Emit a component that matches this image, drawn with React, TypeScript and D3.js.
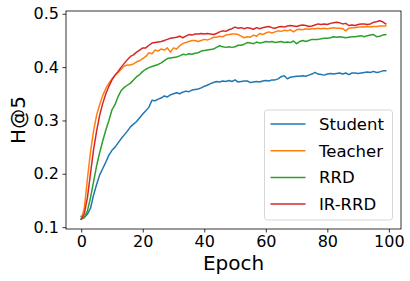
import React, { useEffect, useRef } from "react";
import * as d3 from "d3";

const epochs = d3.range(0, 100);

const student = [
  0.120, 0.118, 0.124, 0.135, 0.160, 0.180, 0.198, 0.210, 0.222, 0.235,
  0.244, 0.250, 0.258, 0.266, 0.273, 0.280, 0.288, 0.293, 0.298, 0.305,
  0.312, 0.318, 0.325, 0.338, 0.337, 0.340, 0.342, 0.346, 0.344, 0.348,
  0.350, 0.352, 0.350, 0.353, 0.355, 0.354, 0.357, 0.358, 0.359, 0.361,
  0.364, 0.366, 0.369, 0.371, 0.373, 0.372, 0.374, 0.373, 0.375, 0.373,
  0.376, 0.372, 0.373, 0.374, 0.374, 0.371, 0.372, 0.373, 0.372, 0.374,
  0.375, 0.374, 0.376, 0.376, 0.378, 0.382, 0.384, 0.378, 0.381, 0.382,
  0.383, 0.383, 0.384, 0.383, 0.385, 0.387, 0.390, 0.387, 0.386, 0.385,
  0.387, 0.388, 0.387, 0.388, 0.389, 0.387, 0.389, 0.386, 0.389, 0.389,
  0.388, 0.389, 0.390, 0.391, 0.390, 0.392, 0.390, 0.391, 0.393, 0.393,
];

const teacher = [
  0.115, 0.135, 0.190, 0.240, 0.280, 0.310, 0.330, 0.347, 0.360, 0.370,
  0.378, 0.385, 0.390, 0.396, 0.402, 0.404, 0.404, 0.406, 0.410, 0.412,
  0.416, 0.420, 0.427, 0.425, 0.432, 0.430, 0.434, 0.432, 0.436, 0.428,
  0.436, 0.434, 0.440, 0.444, 0.446, 0.448, 0.450, 0.450, 0.448, 0.450,
  0.452, 0.451, 0.453, 0.456, 0.456, 0.458, 0.457, 0.460, 0.461, 0.462,
  0.462, 0.461, 0.458, 0.455, 0.457, 0.456, 0.460, 0.458, 0.463, 0.461,
  0.464, 0.466, 0.464, 0.466, 0.468, 0.467, 0.469, 0.468, 0.470, 0.466,
  0.470, 0.471, 0.470, 0.472, 0.471, 0.472, 0.472, 0.473, 0.472, 0.473,
  0.472, 0.473, 0.474, 0.473, 0.473, 0.472, 0.468, 0.473, 0.474, 0.474,
  0.475, 0.475, 0.475, 0.476, 0.475, 0.476, 0.476, 0.477, 0.477, 0.477,
];

const rrd = [
  0.115, 0.118, 0.130, 0.155, 0.185, 0.215, 0.240, 0.262, 0.282, 0.300,
  0.320, 0.330, 0.345, 0.356, 0.362, 0.366, 0.370, 0.376, 0.382, 0.386,
  0.392, 0.396, 0.399, 0.401, 0.403, 0.405, 0.408, 0.412, 0.416, 0.417,
  0.418, 0.419, 0.421, 0.424, 0.423, 0.425, 0.424, 0.426, 0.427, 0.430,
  0.431, 0.432, 0.433, 0.434, 0.437, 0.440, 0.438, 0.437, 0.438, 0.437,
  0.438, 0.441, 0.441, 0.443, 0.446, 0.445, 0.444, 0.447, 0.445, 0.446,
  0.448, 0.447, 0.448, 0.446, 0.447, 0.448, 0.446, 0.447, 0.446, 0.449,
  0.444, 0.448, 0.450, 0.448, 0.450, 0.452, 0.452, 0.452, 0.453, 0.454,
  0.454, 0.455, 0.457, 0.456, 0.457, 0.456, 0.455, 0.456, 0.457, 0.457,
  0.458, 0.459, 0.457, 0.459, 0.460, 0.461, 0.457, 0.458, 0.460, 0.461,
];

const irrrd = [
  0.115, 0.125, 0.155, 0.200, 0.245, 0.280, 0.310, 0.332, 0.350, 0.364,
  0.376, 0.385, 0.392, 0.400, 0.407, 0.414, 0.420, 0.423, 0.428, 0.432,
  0.436, 0.436, 0.441, 0.445, 0.446, 0.447, 0.448, 0.450, 0.452, 0.454,
  0.455, 0.456, 0.458, 0.455, 0.458, 0.461, 0.460, 0.462, 0.462, 0.463,
  0.462, 0.463, 0.462, 0.461, 0.463, 0.466, 0.468, 0.467, 0.470, 0.472,
  0.475, 0.473, 0.474, 0.472, 0.474, 0.473, 0.471, 0.474, 0.472, 0.474,
  0.475, 0.476, 0.474, 0.473, 0.475, 0.476, 0.475, 0.477, 0.478, 0.477,
  0.476, 0.478, 0.479, 0.478, 0.476, 0.477, 0.479, 0.481, 0.480, 0.481,
  0.480, 0.482, 0.483, 0.484, 0.483, 0.481, 0.482, 0.478, 0.479, 0.478,
  0.480, 0.481, 0.481, 0.480, 0.481, 0.484, 0.485, 0.487, 0.485, 0.481,
];

const seriesNames = ["Student", "Teacher", "RRD", "IR-RRD"];
const seriesValues = [student, teacher, rrd, irrrd];
const colors = ["#1f77b4", "#ff7f0e", "#2ca02c", "#d62728"];

const xTicks = [0, 20, 40, 60, 80, 100];
const yTicks = [0.1, 0.2, 0.3, 0.4, 0.5];

const App = () => {
  const chart = useRef(null);
  const width = 410;
  const height = 281;

  useEffect(() => {
    const margin = { top: 11, left: 66, bottom: 52, right: 9 };
    const font = "DejaVu Sans, sans-serif";

    const svg = d3.select(chart.current);
    svg.selectAll("*").remove();

    const x = d3
      .scaleLinear()
      .domain([-4.95, 103.95])
      .range([margin.left, width - margin.right]);
    const y = d3
      .scaleLinear()
      .domain([0.0965, 0.5052])
      .range([height - margin.bottom, margin.top]);

    svg.append("rect").attr("width", width).attr("height", height).attr("fill", "white");

    const line = d3
      .line<number>()
      .x((d, i) => x(epochs[i]))
      .y((d) => y(d));

    const g = svg.append("g");
    seriesValues.forEach((vals, i) => {
      g.append("path")
        .datum(vals)
        .attr("d", line)
        .attr("fill", "none")
        .attr("stroke", colors[i])
        .attr("stroke-width", 1.5)
        .attr("stroke-linejoin", "round")
        .attr("stroke-linecap", "square");
    });

    // axes
    const xAxis = svg
      .append("g")
      .attr("transform", `translate(0,${height - margin.bottom})`)
      .call(d3.axisBottom(x).tickValues(xTicks).tickSize(3.5).tickPadding(3.5).tickFormat(d3.format("d")));
    const yAxis = svg
      .append("g")
      .attr("transform", `translate(${margin.left},0)`)
      .call(d3.axisLeft(y).tickValues(yTicks).tickSize(3.5).tickPadding(3.5).tickFormat(d3.format(".1f")));

    [xAxis, yAxis].forEach((ax) => {
      ax.select(".domain").remove();
      ax.selectAll("line").attr("stroke", "#000").attr("stroke-width", 0.8);
      ax.selectAll("text")
        .attr("fill", "#000")
        .style("font-family", font)
        .style("font-size", "16px");
    });

    // frame
    svg
      .append("rect")
      .attr("x", margin.left)
      .attr("y", margin.top)
      .attr("width", width - margin.left - margin.right)
      .attr("height", height - margin.top - margin.bottom)
      .attr("fill", "none")
      .attr("stroke", "#000")
      .attr("stroke-width", 0.8);

    svg
      .append("text")
      .attr("x", (margin.left + width - margin.right) / 2)
      .attr("y", 270)
      .attr("text-anchor", "middle")
      .style("font-family", font)
      .style("font-size", "20px")
      .text("Epoch");

    svg
      .append("text")
      .attr("transform", `translate(25,${(margin.top + height - margin.bottom) / 2}) rotate(-90)`)
      .attr("text-anchor", "middle")
      .style("font-family", font)
      .style("font-size", "20px")
      .text("H@5");

    // legend
    const lg = svg.append("g").attr("transform", "translate(264.5,110)");
    lg.append("rect")
      .attr("width", 128)
      .attr("height", 110)
      .attr("rx", 3)
      .attr("fill", "white")
      .attr("fill-opacity", 0.8)
      .attr("stroke", "#cccccc")
      .attr("stroke-width", 0.8);
    seriesNames.forEach((name, i) => {
      const yy = 14 + i * 26.7;
      lg.append("line")
        .attr("x1", 6)
        .attr("x2", 41)
        .attr("y1", yy)
        .attr("y2", yy)
        .attr("stroke", colors[i])
        .attr("stroke-width", 1.5);
      lg.append("text")
        .attr("x", 54.5)
        .attr("y", yy)
        .attr("dy", "0.36em")
        .style("font-family", font)
        .style("font-size", "16.5px")
        .text(name);
    });
  });

  return (
    <svg
      ref={chart}
      width={width}
      height={height}
      style={{ position: "absolute", left: 0, top: 0 }}
    ></svg>
  );
};

export default App;
